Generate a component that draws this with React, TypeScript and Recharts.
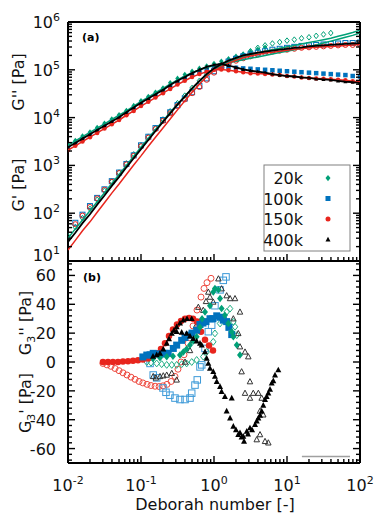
import { ScatterChart, Scatter, XAxis, YAxis, ReferenceLine } from "recharts"

const FONT = "DejaVu Sans"
const GREEN = "#00a077"
const BLUE = "#0072bd"
const RED = "#e8251d"
const BLACK = "#000000"

// panel (a): Deborah numbers the moduli were read at
const deborah = [0.01, 0.0126, 0.0158, 0.02, 0.0251, 0.0316, 0.0398, 0.0501, 0.0631, 0.0794, 0.1, 0.126, 0.158, 0.2, 0.251, 0.316, 0.398, 0.501, 0.631, 0.794, 1, 1.26, 1.58, 2, 2.51, 3.16, 3.98, 5.01, 6.31, 7.94, 10, 12.6, 15.8, 20, 25.1, 31.6, 39.8, 50.1, 63.1, 79.4, 100]

// measured G'' (filled) and G' (open), Pa
const gpp20k = [2700, 3300, 4100, 5000, 6200, 7600, 9300, 11500, 14100, 17800, 22400, 27500, 33900, 41700, 53700, 66100, 79400, 93300, 107000, 120000, 135000, 151000, 170000, 191000, 214000, 240000, 269000, 295000]
const gp20k = [33, 51, 79, 123, 191, 295, 457, 708, 1100, 1700, 2630, 3980, 6030, 9120, 13500, 20000, 28800, 41700, 58900, 81300, 107000, 132000, 155000, 178000, 204000, 245000, 288000, 324000, 355000, 380000, 407000, 427000, 457000, 479000, 513000, 550000, 589000]
const gpp100k = [2340, 2880, 3550, 4370, 5370, 6610, 8130, 10000, 12300, 15500, 19500, 24000, 29500, 36300, 44700, 55000, 66100, 79400, 91200, 102000, 112000, 117000, 115000, 110000, 107000, 105000, 102000, 100000, 97700, 95500, 93300, 91200, 89100, 87100, 85100, 83200, 81300, 79400, 77600, 74100, 72400]
const gp100k = [null, 63, 93, 141, 209, 316, 468, 708, 1070, 1620, 2630, 3980, 6030, 8910, 12900, 18200, 25100, 33900, 45700, 66100, 93300, 120000, 148000, 170000, 191000, 209000, 229000, 245000, 263000, 275000, 288000, 302000, 316000, 324000, 331000, 339000, 347000, 355000, 363000, 363000, 372000]
const gpp150k = [2090, 2570, 3160, 3890, 4790, 5890, 7240, 8910, 11200, 13800, 17400, 21400, 26300, 32400, 39800, 49000, 58900, 70800, 81300, 91200, 100000, 102000, 97700, 93300, 89100, 85100, 83200, 81300, 79400, 77600, 74100, 72400, 69200, 67600, 66100, 64600, 63100, 61700, 60300, 57500, 56200]
const gp150k = [null, 59, 89, 135, 204, 309, 457, 692, 1050, 1580, 2510, 3800, 5750, 8510, 12300, 17400, 24000, 32400, 43700, 61700, 87100, 112000, 135000, 155000, 174000, 191000, 209000, 224000, 240000, 251000, 263000, 275000, 288000, 295000, 302000, 309000, 316000, 324000, 331000, 331000, 339000]
const gpp400k = [2400, 2950, 3630, 4470, 5500, 6760, 8320, 10200, 12900, 16200, 20400, 25100, 30900, 38000, 47900, 58900, 70800, 85100, 100000, 115000, 126000, 132000, 123000, 112000, 102000, 95500, 91200, 87100, 81300, 77600, 74100, 72400, 69200, 67600, 64600, 63100, 61700, 58900, 56200, 55000, 52500]

// model curves, Pa
const fitGp20k = [30, 47, 72, 112, 174, 269, 417, 646, 1000, 1550, 2400, 3720, 5620, 8510, 12900, 19100, 28200, 40700, 57500, 79400, 102000, 123000, 145000, 166000, 186000, 204000, 224000, 245000, 263000, 282000, 302000, 324000, 347000, 372000, 398000, 427000, 457000, 501000, 550000, 603000, 676000]
const fitGpp20k = [2630, 3240, 3980, 4900, 6030, 7410, 9120, 11200, 13800, 17400, 21900, 26900, 33100, 40700, 50100, 61700, 74100, 87100, 100000, 112000, 123000, 132000, 141000, 151000, 162000, 174000, 186000, 200000, 214000, 229000, 245000, 263000, 282000, 309000, 331000, 363000, 398000, 437000, 479000, 525000, 589000]
const fitGp150k = [17, 27, 43, 66, 105, 166, 263, 407, 646, 1020, 1580, 2510, 3890, 6030, 9330, 14500, 22400, 33900, 50100, 72400, 95500, 117000, 138000, 158000, 178000, 195000, 209000, 224000, 234000, 245000, 257000, 269000, 275000, 288000, 295000, 302000, 309000, 316000, 324000, 331000, 339000]
const fitGpp150k = [2090, 2570, 3160, 3890, 4790, 5890, 7240, 8910, 11200, 13800, 17400, 21400, 26300, 32400, 39800, 49000, 58900, 70800, 81300, 91200, 100000, 102000, 97700, 93300, 89100, 85100, 83200, 81300, 79400, 77600, 74100, 72400, 69200, 67600, 66100, 64600, 63100, 61700, 60300, 57500, 56200]
const fitGp400k = [25, 39, 62, 95, 151, 234, 372, 575, 912, 1410, 2190, 3390, 5250, 8130, 12300, 18600, 27500, 40700, 58900, 81300, 107000, 132000, 155000, 178000, 200000, 214000, 229000, 240000, 251000, 263000, 275000, 288000, 295000, 309000, 316000, 324000, 331000, 339000, 347000, 355000, 363000]
const fitGpp400k = [2400, 2950, 3630, 4470, 5500, 6760, 8320, 10200, 12900, 16200, 20400, 25100, 30900, 38000, 47900, 58900, 70800, 85100, 100000, 115000, 126000, 132000, 123000, 112000, 102000, 95500, 91200, 87100, 81300, 77600, 74100, 72400, 69200, 67600, 64600, 63100, 61700, 58900, 56200, 55000, 52500]

// panel (b): [Deborah number, G3 in Pa]
const g3pp20k = [[0.147, 2.5], [0.182, 3], [0.225, 3.7], [0.274, 4], [0.342, 4.8], [0.38, 7], [0.422, 9], [0.469, 11.7], [0.52, 14.5], [0.579, 17.5], [0.643, 24], [0.686, 30], [0.753, 34.7], [0.881, 39], [0.977, 48.5], [1.03, 51], [1.15, 50], [1.21, 44], [1.27, 37], [1.41, 32.4], [1.57, 26.7], [1.75, 21], [1.84, 17.5], [2.05, 11.7], [2.27, 4.8]]
const g3p20k = [[0.12, 0], [0.137, -0.5], [0.164, -1], [0.192, -1.5], [0.225, -2], [0.264, -2], [0.308, -2], [0.361, -1.5], [0.422, -1], [0.495, 0], [0.579, 1.4], [0.713, 3.7], [0.794, 7], [0.977, 14], [1.03, 19.8], [1.21, 26.7], [1.34, 31], [1.49, 34.7], [1.66, 37], [1.84, 27.8], [1.94, 24.4], [2.05, 18.6]]
const g3pp100k = [[0.106, 3.5], [0.12, 4.8], [0.133, 5], [0.147, 6], [0.166, 5.5], [0.188, 5.5], [0.213, 6], [0.236, 6], [0.277, 9.4], [0.308, 11.7], [0.361, 15], [0.401, 17], [0.445, 18.6], [0.5, 20], [0.579, 22], [0.643, 26], [0.706, 27], [0.777, 28], [0.881, 30], [0.968, 30], [1.09, 32], [1.21, 31], [1.34, 29], [1.49, 28], [1.6, 24], [1.75, 19]]
const g3p100k = [[0.133, -1], [0.147, -9], [0.164, -11], [0.2, -18], [0.22, -21], [0.249, -23], [0.292, -25], [0.342, -26], [0.401, -26], [0.469, -25], [0.495, -21.6], [0.549, -16], [0.59, -12.4], [0.643, -3.4], [0.679, -2], [0.753, 9.4], [0.836, 21], [0.929, 25.5], [1.03, 39], [1.21, 50], [1.34, 56.6], [1.46, 59]]
const g3pp150k = [[0.0301, 0], [0.0353, 0], [0.0413, 0], [0.0484, 0], [0.0566, 0.3], [0.0664, 0.5], [0.0777, 0.8], [0.091, 1.2], [0.106, 1.8], [0.125, 2.5], [0.146, 4], [0.166, 6], [0.188, 9], [0.213, 13], [0.242, 18], [0.274, 22.5], [0.311, 26], [0.353, 28.5], [0.401, 30], [0.455, 30.5], [0.516, 30], [0.585, 28], [0.664, 21], [0.753, 15.5], [0.855, 11.5], [0.968, 8]]
const g3p150k = [[0.0301, -1], [0.0342, -2], [0.0388, -3], [0.0441, -4.5], [0.05, -6], [0.0566, -7.5], [0.0643, -9], [0.0729, -10.5], [0.0828, -12], [0.094, -13.5], [0.106, -14.5], [0.121, -15.5], [0.137, -16.3], [0.156, -16.8], [0.177, -17], [0.2, -16.5], [0.227, -15.5], [0.258, -13.5], [0.292, -10], [0.321, -5], [0.353, 0], [0.388, 5], [0.441, 13], [0.516, 25], [0.585, 36], [0.664, 45], [0.73, 51], [0.802, 55], [0.91, 58]]
const g3pp400k = [[0.146, 4], [0.164, 5], [0.182, 6], [0.202, 9], [0.225, 12.9], [0.242, 16], [0.264, 19.8], [0.283, 22], [0.308, 24.4], [0.342, 27], [0.38, 29], [0.427, 30], [0.495, 30], [0.308, 21], [0.361, 20.5], [0.422, 19.8], [0.469, 18], [0.52, 16.3], [0.579, 14.5], [0.643, 12.9], [0.679, 11.7], [0.753, 7], [0.794, 2.5], [0.836, -1], [0.881, -4.4], [0.977, -6.7], [1.03, -10], [1.09, -13.6], [1.21, -17], [1.27, -20.5], [1.41, -24], [1.49, -34], [1.66, -38.9], [1.75, -25], [1.84, -44.6], [2.0, -47], [2.15, -50.3], [2.27, -49], [2.39, -52], [2.52, -51.5], [2.58, -55], [2.81, -48], [2.92, -50], [3.11, -45.7], [3.32, -47], [3.65, -43.4], [3.85, -41], [4.05, -38.9], [4.27, -37], [4.5, -34], [4.73, -30], [5.0, -26], [5.27, -24], [5.55, -21.6], [5.85, -19], [6.17, -14.7], [6.49, -13], [6.85, -9], [7.6, -5.5]]
const g3p400k = [[0.147, -10], [0.16, -11], [0.182, -10], [0.202, -9.5], [0.225, -9], [0.264, -7.8], [0.308, -12.4], [0.401, 0], [0.469, 8], [0.516, 15], [0.567, 25], [0.61, 38], [0.643, 27.8], [0.713, 35.9], [0.777, 42], [0.836, 48.5], [0.881, 45], [0.977, 41.6], [1.15, 57.7], [1.27, 50.8], [1.49, 46], [1.66, 44], [1.94, 44], [2.27, 34.7], [1.84, 30], [2.15, 19.8], [2.27, 10.6], [2.66, 7], [2.95, 3.7], [2.39, -6.7], [3.11, -13.6], [2.66, -21.6], [3.45, -21.6], [3.11, -25], [4.05, -21.6], [4.5, -25], [4.27, -34], [4.73, -36.6], [4.27, -50.3], [3.85, -53.8], [5.0, -55], [5.55, -56]]

// axis ticks
const xTicks = [0.01, 0.02, 0.03, 0.04, 0.05, 0.06, 0.07, 0.08, 0.09, 0.1, 0.2, 0.3, 0.4, 0.5, 0.6, 0.7, 0.8, 0.9, 1, 2, 3, 4, 5, 6, 7, 8, 9, 10, 20, 30, 40, 50, 60, 70, 80, 90, 100]
const modTicks = [10, 20, 30, 40, 50, 60, 70, 80, 90, 100, 200, 300, 400, 500, 600, 700, 800, 900, 1000, 2000, 3000, 4000, 5000, 6000, 7000, 8000, 9000, 10000, 20000, 30000, 40000, 50000, 60000, 70000, 80000, 90000, 100000, 200000, 300000, 400000, 500000, 600000, 700000, 800000, 900000, 1000000]
const g3Ticks = [-68, -64, -60, -56, -52, -48, -44, -40, -36, -32, -28, -24, -20, -16, -12, -8, -4, 0, 4, 8, 12, 16, 20, 24, 28, 32, 36, 40, 44, 48, 52, 56, 60, 64, 68]

const legendRows = [
  { name: "20k", kind: "diamond", color: GREEN },
  { name: "100k", kind: "square", color: BLUE },
  { name: "150k", kind: "circle", color: RED },
  { name: "400k", kind: "triangle", color: BLACK },
]

const onGrid = (ys: (number | null)[]) =>
  deborah.map((x, i) => ({ x, y: ys[i] })).filter((d) => d.y != null)
const pts = (arr: number[][]) => arr.map(([x, y]) => ({ x, y }))

function drawMarker(kind: string, cx: number, cy: number, s: number, color: string, filled: boolean) {
  const fill = filled ? color : "none"
  const stroke = filled ? "none" : color
  const h = s / 2
  if (kind === "circle") return <circle cx={cx} cy={cy} r={h} fill={fill} stroke={stroke} strokeWidth={1} />
  if (kind === "square") return <rect x={cx - h} y={cy - h} width={s} height={s} fill={fill} stroke={stroke} strokeWidth={1} />
  if (kind === "diamond")
    return <polygon points={`${cx},${cy - h * 1.25} ${cx + h},${cy} ${cx},${cy + h * 1.25} ${cx - h},${cy}`} fill={fill} stroke={stroke} strokeWidth={1} />
  return <polygon points={`${cx},${cy - h * 1.1} ${cx + h},${cy + h * 0.8} ${cx - h},${cy + h * 0.8}`} fill={fill} stroke={stroke} strokeWidth={1} />
}

const shape = (kind: string, s: number, color: string, filled: boolean) => (p: any) => {
  if (p.cx == null || p.cy == null) return <g />
  return drawMarker(kind, p.cx, p.cy, s, color, filled)
}
const noDot = () => <g />

const isDecade = (v: number) => {
  const l = Math.log10(v)
  return Math.abs(l - Math.round(l)) < 1e-6
}

const Pow = ({ x, y, anchor, exp }: any) => (
  <text x={x} y={y} textAnchor={anchor} fontFamily={FONT} fontSize={16} fill="#111">
    10<tspan dy={-7} fontSize={11}>{exp}</tspan>
  </text>
)

const makeTick = (side: string, mode: string, label: string | null) => (p: any) => {
  const { x, y, payload } = p
  const v = payload.value
  const major = mode === "log" ? isDecade(v) : v % 20 === 0
  const len = major ? 7 : 4
  let x2 = x
  let y2 = y
  if (side === "bottom") y2 = y - len
  if (side === "top") y2 = y + len
  if (side === "left") x2 = x + len
  if (side === "right") x2 = x - len
  let text = null
  if (label && major) {
    if (label === "powBottom") text = <Pow x={x} y={y + 28} anchor="middle" exp={String(Math.round(Math.log10(v)))} />
    // the lowest decade label sits a little higher, clear of the panel (b) "60"
    if (label === "powLeft") text = <Pow x={x - 8} y={v === 10 ? y : y + 6} anchor="end" exp={String(Math.round(Math.log10(v)))} />
    if (label === "numLeft")
      text = (
        <text x={x - 12} y={y + 6} textAnchor="end" fontFamily={FONT} fontSize={16} fill="#111">
          {v}
        </text>
      )
  }
  return (
    <g>
      <line x1={x} y1={y} x2={x2} y2={y2} stroke="#000" strokeWidth={1.4} />
      {text}
    </g>
  )
}

const frame = { stroke: "#000", strokeWidth: 2 }
// each axis gets a 1px band so it is rendered; margins put the plot at x 68..360
const axisX = { type: "number" as const, scale: "log" as const, domain: [0.01, 100], allowDataOverflow: true, ticks: xTicks, interval: 0, height: 1, tickSize: 0, tickMargin: 0, axisLine: frame, tickLine: false }

function PanelA() {
  return (
    <ScatterChart width={390} height={520} margin={{ top: 21, right: 29, bottom: 258, left: 67 }}>
      <XAxis {...axisX} dataKey="x" tick={makeTick("bottom", "log", null)} />
      <XAxis {...axisX} xAxisId="top" orientation="top" tick={makeTick("top", "log", null)} />
      <YAxis type="number" dataKey="y" scale="log" domain={[10, 1000000]} allowDataOverflow ticks={modTicks} interval={0} width={1} tickSize={0} tickMargin={0} axisLine={frame} tickLine={false} tick={makeTick("left", "log", "powLeft")} />
      <YAxis yAxisId="right" orientation="right" type="number" scale="log" domain={[10, 1000000]} allowDataOverflow ticks={modTicks} interval={0} width={1} tickSize={0} tickMargin={0} axisLine={frame} tickLine={false} tick={makeTick("right", "log", null)} />

      <Scatter data={onGrid(gpp20k)} shape={shape("diamond", 4.5, GREEN, true)} isAnimationActive={false} />
      <Scatter data={onGrid(gp20k)} shape={shape("diamond", 4.5, GREEN, false)} isAnimationActive={false} />
      <Scatter data={onGrid(gpp100k)} shape={shape("square", 4.5, BLUE, true)} isAnimationActive={false} />
      <Scatter data={onGrid(gp100k)} shape={shape("square", 5, BLUE, false)} isAnimationActive={false} />
      <Scatter data={onGrid(gpp150k)} shape={shape("circle", 4.5, RED, true)} isAnimationActive={false} />
      <Scatter data={onGrid(gp150k)} shape={shape("circle", 5, RED, false)} isAnimationActive={false} />
      <Scatter data={onGrid(gpp400k)} shape={shape("triangle", 4, BLACK, true)} isAnimationActive={false} />

      <Scatter data={onGrid(fitGp20k)} fill={GREEN} line={{ stroke: GREEN, strokeWidth: 1.5 }} shape={noDot} isAnimationActive={false} />
      <Scatter data={onGrid(fitGpp20k)} fill={GREEN} line={{ stroke: GREEN, strokeWidth: 1.5 }} shape={noDot} isAnimationActive={false} />
      <Scatter data={onGrid(fitGp150k)} fill={RED} line={{ stroke: RED, strokeWidth: 1.5 }} shape={noDot} isAnimationActive={false} />
      <Scatter data={onGrid(fitGpp150k)} fill={RED} line={{ stroke: RED, strokeWidth: 1.5 }} shape={noDot} isAnimationActive={false} />
      <Scatter data={onGrid(fitGp400k)} fill={BLACK} line={{ stroke: BLACK, strokeWidth: 1.8 }} shape={noDot} isAnimationActive={false} />
      <Scatter data={onGrid(fitGpp400k)} fill={BLACK} line={{ stroke: BLACK, strokeWidth: 1.8 }} shape={noDot} isAnimationActive={false} />
    </ScatterChart>
  )
}

function PanelB() {
  return (
    <ScatterChart width={390} height={520} margin={{ top: 260, right: 29, bottom: 56, left: 67 }}>
      <XAxis {...axisX} dataKey="x" tick={makeTick("bottom", "log", "powBottom")} />
      <XAxis {...axisX} xAxisId="top" orientation="top" tick={makeTick("top", "log", null)} />
      <YAxis type="number" dataKey="y" domain={[-70, 70]} allowDataOverflow ticks={g3Ticks} interval={0} width={1} tickSize={0} tickMargin={0} axisLine={frame} tickLine={false} tick={makeTick("left", "lin", "numLeft")} />
      <YAxis yAxisId="right" orientation="right" type="number" domain={[-70, 70]} allowDataOverflow ticks={g3Ticks} interval={0} width={1} tickSize={0} tickMargin={0} axisLine={frame} tickLine={false} tick={makeTick("right", "lin", null)} />

      <ReferenceLine segment={[{ x: 16, y: -65.5 }, { x: 73, y: -65.5 }]} stroke="#a0a0a0" strokeWidth={1.5} />

      <Scatter data={pts(g3p150k)} shape={shape("circle", 6, "#ee4a40", false)} isAnimationActive={false} />
      <Scatter data={pts(g3p100k)} shape={shape("square", 6.5, "#3d9ad8", false)} isAnimationActive={false} />
      <Scatter data={pts(g3p20k)} shape={shape("diamond", 5.5, "#1fae84", false)} isAnimationActive={false} />
      <Scatter data={pts(g3p400k)} shape={shape("triangle", 5.5, "#333", false)} isAnimationActive={false} />
      <Scatter data={pts(g3pp150k)} shape={shape("circle", 6.5, RED, true)} isAnimationActive={false} />
      <Scatter data={pts(g3pp100k)} shape={shape("square", 7, BLUE, true)} isAnimationActive={false} />
      <Scatter data={pts(g3pp20k)} shape={shape("diamond", 6, GREEN, true)} isAnimationActive={false} />
      <Scatter data={pts(g3pp400k)} shape={shape("triangle", 6, BLACK, true)} isAnimationActive={false} />
    </ScatterChart>
  )
}

function Annotations() {
  const t = { fontFamily: FONT, fontSize: 16, fill: "#111" }
  return (
    <svg width={390} height={520} style={{ position: "absolute", left: 0, top: 0, pointerEvents: "none" }}>
      <text x={82} y={41} fontFamily={FONT} fontSize={11} fontWeight="bold">(a)</text>
      <text x={83} y={281} fontFamily={FONT} fontSize={11} fontWeight="bold">(b)</text>

      <text {...t} transform="rotate(-90 18 82)" x={18} y={88} textAnchor="middle">G'' [Pa]</text>
      <text {...t} transform="rotate(-90 18 185)" x={18} y={191} textAnchor="middle">G' [Pa]</text>
      <text {...t} transform="rotate(-90 25 323)" x={25} y={329} textAnchor="middle">
        G<tspan dy={4} fontSize={11}>3</tspan><tspan dy={-4}>'' [Pa]</tspan>
      </text>
      <text {...t} transform="rotate(-90 25 403)" x={25} y={409} textAnchor="middle">
        G<tspan dy={4} fontSize={11}>3</tspan><tspan dy={-4}>' [Pa]</tspan>
      </text>

      <text {...t} x={215} y={510} textAnchor="middle">Deborah number [-]</text>

      <rect x={264} y={165} width={86} height={86} fill="#fff" stroke="#808080" strokeWidth={1} />
      {legendRows.map((r, i) => (
        <g key={r.name}>
          <text {...t} x={303} y={184 + i * 20.5} textAnchor="end">{r.name}</text>
          {drawMarker(r.kind, 328, 178 + i * 20.5, 5, r.color, true)}
        </g>
      ))}
    </svg>
  )
}

export default function App() {
  return (
    <div style={{ position: "absolute", left: 0, top: 0, width: 390, height: 520, background: "#fff" }}>
      <div style={{ position: "absolute", left: 0, top: 0 }}>
        <PanelA />
      </div>
      <div style={{ position: "absolute", left: 0, top: 0 }}>
        <PanelB />
      </div>
      <Annotations />
    </div>
  )
}
